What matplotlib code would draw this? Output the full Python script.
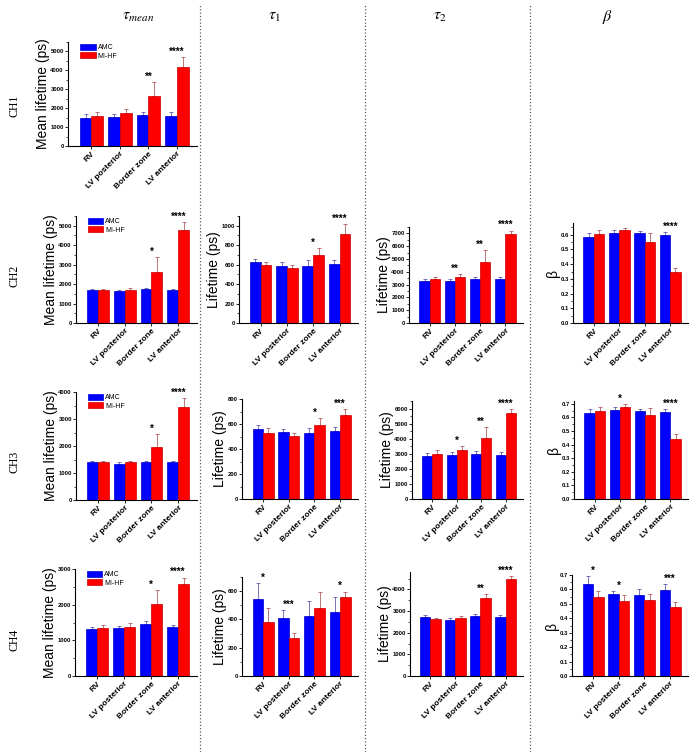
import numpy as np
import matplotlib.pyplot as plt
from matplotlib.lines import Line2D
from matplotlib.ticker import MultipleLocator, AutoMinorLocator

plt.rcParams['font.family'] = ['Liberation Sans', 'DejaVu Sans']
plt.rcParams['mathtext.fontset'] = 'stix'

regions = ["RV", "LV posterior", "Border zone", "LV anterior"]

# --- CH1 tau_mean
ch1_tmean_amc = [1500, 1550, 1640, 1590]
ch1_tmean_amc_err = [170, 150, 150, 200]
ch1_tmean_mi = [1590, 1720, 2660, 4200]
ch1_tmean_mi_err = [200, 230, 740, 490]
ch1_tmean_stars = ["", "", "**", "****"]

# --- CH2
ch2_tmean_amc = [1720, 1650, 1740, 1700]
ch2_tmean_amc_err = [40, 30, 40, 40]
ch2_tmean_mi = [1700, 1720, 2640, 4790]
ch2_tmean_mi_err = [50, 70, 740, 390]
ch2_tmean_stars = ["", "", "*", "****"]

ch2_t1_amc = [622, 591, 591, 608]
ch2_t1_amc_err = [31, 31, 55, 38]
ch2_t1_mi = [594, 570, 694, 914]
ch2_t1_mi_err = [31, 31, 79, 100]
ch2_t1_stars = ["", "", "*", "****"]

ch2_t2_amc = [3270, 3320, 3400, 3400]
ch2_t2_amc_err = [130, 130, 180, 200]
ch2_t2_mi = [3400, 3630, 4790, 6930]
ch2_t2_mi_err = [200, 200, 910, 290]
ch2_t2_stars = ["", "**", "**", "****"]

ch2_beta_amc = [0.586, 0.609, 0.609, 0.598]
ch2_beta_amc_err = [0.029, 0.021, 0.016, 0.022]
ch2_beta_mi = [0.605, 0.630, 0.554, 0.345]
ch2_beta_mi_err = [0.025, 0.015, 0.061, 0.030]
ch2_beta_stars = ["", "", "", "****"]

# --- CH3
ch3_tmean_amc = [1410, 1350, 1420, 1390]
ch3_tmean_amc_err = [40, 40, 40, 40]
ch3_tmean_mi = [1390, 1390, 1970, 3440]
ch3_tmean_mi_err = [70, 70, 480, 320]
ch3_tmean_stars = ["", "", "*", "****"]

ch3_t1_amc = [560, 533, 527, 545]
ch3_t1_amc_err = [35, 27, 38, 30]
ch3_t1_mi = [530, 508, 595, 670]
ch3_t1_mi_err = [35, 17, 55, 50]
ch3_t1_stars = ["", "", "*", "***"]

ch3_t2_amc = [2840, 2940, 2970, 2940]
ch3_t2_amc_err = [190, 150, 190, 180]
ch3_t2_mi = [2970, 3250, 4030, 5720]
ch3_t2_mi_err = [260, 250, 730, 260]
ch3_t2_stars = ["", "*", "**", "****"]

ch3_beta_amc = [0.630, 0.655, 0.645, 0.637]
ch3_beta_amc_err = [0.030, 0.020, 0.015, 0.023]
ch3_beta_mi = [0.645, 0.678, 0.620, 0.440]
ch3_beta_mi_err = [0.030, 0.017, 0.045, 0.035]
ch3_beta_stars = ["", "*", "", "****"]

# --- CH4
ch4_tmean_amc = [1320, 1340, 1470, 1360]
ch4_tmean_amc_err = [60, 60, 70, 70]
ch4_tmean_mi = [1340, 1370, 2010, 2590]
ch4_tmean_mi_err = [80, 130, 410, 170]
ch4_tmean_stars = ["", "", "*", "****"]

ch4_t1_amc = [546, 412, 421, 452]
ch4_t1_amc_err = [110, 56, 108, 105]
ch4_t1_mi = [382, 269, 480, 562]
ch4_t1_mi_err = [100, 38, 112, 35]
ch4_t1_stars = ["*", "***", "", "*"]

ch4_t2_amc = [2720, 2600, 2760, 2720]
ch4_t2_amc_err = [80, 80, 90, 80]
ch4_t2_mi = [2620, 2660, 3580, 4500]
ch4_t2_mi_err = [80, 90, 200, 100]
ch4_t2_stars = ["", "", "**", "****"]

ch4_beta_amc = [0.635, 0.570, 0.560, 0.595]
ch4_beta_amc_err = [0.055, 0.020, 0.045, 0.040]
ch4_beta_mi = [0.550, 0.520, 0.530, 0.480]
ch4_beta_mi_err = [0.040, 0.040, 0.040, 0.035]
ch4_beta_stars = ["*", "*", "", "***"]

W, H = 692, 752
fig = plt.figure(figsize=(W / 100, H / 100), dpi=100)


def box(l, t, r, b):
    return [l / W, 1 - b / H, (r - l) / W, (b - t) / H]


def panel(pos, amc, amc_err, mi, mi_err, stars, ymax, step, ylabel, legend=False):
    ax = fig.add_axes(box(*pos))
    x = np.arange(len(regions))
    w = 0.41
    ax.bar(x - w / 2, amc, w, color="#0000ff", edgecolor="#0000c8", lw=0.5, label="AMC", zorder=2)
    ax.bar(x + w / 2, mi, w, color="#ff0000", edgecolor="#c80000", lw=0.5, label="MI-HF", zorder=2)
    z = np.zeros(len(x))
    ax.errorbar(x - w / 2, amc, yerr=[z, amc_err], fmt="none", ecolor="#4040a0",
                elinewidth=0.5, capsize=1.5, capthick=0.5, zorder=1)
    ax.errorbar(x + w / 2, mi, yerr=[z, mi_err], fmt="none", ecolor="#a04040",
                elinewidth=0.5, capsize=1.5, capthick=0.5, zorder=1)
    tops = np.maximum(np.add(amc, amc_err), np.add(mi, mi_err))
    for i, s in enumerate(stars):
        if s:
            ax.text(i, tops[i] + ymax * 0.003, s, ha="center", va="bottom",
                    fontsize=7, fontweight="bold")
    ax.set_xlim(-0.82, 3.7)
    ax.set_ylim(0, ymax)
    ax.yaxis.set_major_locator(MultipleLocator(step))
    ax.yaxis.set_minor_locator(AutoMinorLocator(2))
    ax.set_xticks(x)
    ax.set_xticklabels(regions, rotation=45, ha="right", rotation_mode="anchor",
                       fontsize=6, fontweight="bold")
    ax.tick_params(axis="y", labelsize=4.2, length=2, width=0.6, pad=1)
    ax.tick_params(axis="y", which="minor", length=1.2, width=0.5)
    ax.tick_params(axis="x", length=2, width=0.6, pad=1)
    for lab in ax.get_yticklabels():
        lab.set_fontweight("bold")
    for sp in ["top", "right"]:
        ax.spines[sp].set_visible(False)
    for sp in ["left", "bottom"]:
        ax.spines[sp].set_linewidth(0.8)
    ax.set_ylabel(ylabel, fontsize=10, labelpad=0.5)
    if legend:
        ax.legend(loc="upper left", bbox_to_anchor=(0.08, 1.0), borderaxespad=0,
                  borderpad=0.3, fontsize=5, frameon=False, handlelength=2.2,
                  handleheight=0.9, labelspacing=0.15, handletextpad=0.3)
    return ax


ml, lt, bt = "Mean lifetime (ps)", "Lifetime (ps)", "β"

panel((68, 42, 197, 146), ch1_tmean_amc, ch1_tmean_amc_err, ch1_tmean_mi, ch1_tmean_mi_err,
      ch1_tmean_stars, 5500, 1000, ml, legend=True)

panel((76, 216, 197, 323), ch2_tmean_amc, ch2_tmean_amc_err, ch2_tmean_mi, ch2_tmean_mi_err,
      ch2_tmean_stars, 5500, 1000, ml, legend=True)
panel((239, 216, 358, 323), ch2_t1_amc, ch2_t1_amc_err, ch2_t1_mi, ch2_t1_mi_err,
      ch2_t1_stars, 1100, 200, lt)
panel((409, 227, 523, 323), ch2_t2_amc, ch2_t2_amc_err, ch2_t2_mi, ch2_t2_mi_err,
      ch2_t2_stars, 7500, 1000, lt)
panel((573, 223, 688, 323), ch2_beta_amc, ch2_beta_amc_err, ch2_beta_mi, ch2_beta_mi_err,
      ch2_beta_stars, 0.68, 0.1, bt)

panel((76, 392, 197, 500), ch3_tmean_amc, ch3_tmean_amc_err, ch3_tmean_mi, ch3_tmean_mi_err,
      ch3_tmean_stars, 4000, 1000, ml, legend=True)
panel((242, 399, 358, 499), ch3_t1_amc, ch3_t1_amc_err, ch3_t1_mi, ch3_t1_mi_err,
      ch3_t1_stars, 800, 200, lt)
panel((412, 401, 523, 499), ch3_t2_amc, ch3_t2_amc_err, ch3_t2_mi, ch3_t2_mi_err,
      ch3_t2_stars, 6500, 1000, lt)
panel((574, 401, 688, 499), ch3_beta_amc, ch3_beta_amc_err, ch3_beta_mi, ch3_beta_mi_err,
      ch3_beta_stars, 0.72, 0.1, bt)

panel((75, 569, 197, 676), ch4_tmean_amc, ch4_tmean_amc_err, ch4_tmean_mi, ch4_tmean_mi_err,
      ch4_tmean_stars, 3000, 1000, ml, legend=True)
panel((242, 577, 358, 676), ch4_t1_amc, ch4_t1_amc_err, ch4_t1_mi, ch4_t1_mi_err,
      ch4_t1_stars, 700, 200, lt)
panel((410, 572, 523, 676), ch4_t2_amc, ch4_t2_amc_err, ch4_t2_mi, ch4_t2_mi_err,
      ch4_t2_stars, 4800, 1000, lt)
panel((572, 575, 688, 676), ch4_beta_amc, ch4_beta_amc_err, ch4_beta_mi, ch4_beta_mi_err,
      ch4_beta_stars, 0.70, 0.1, bt)

# column titles
for x, s in [(138, r"$\tau_{mean}$"), (274, r"$\tau_{\mathit{1}}$"),
             (440, r"$\tau_{\mathit{2}}$"), (607, r"$\beta$")]:
    fig.text(x / W, 1 - 17 / H, s, fontsize=11.5, ha="center", va="center")

# row labels
for y, s in [(106, "CH1"), (276, "CH2"), (462, "CH3"), (640, "CH4")]:
    fig.text(15 / W, 1 - y / H, s, rotation=90, ha="center", va="center",
             fontsize=8.5, family="Liberation Serif")

# dotted separators
for x in [200, 365, 530]:
    fig.add_artist(Line2D([x / W, x / W], [0, 1 - 5 / H], transform=fig.transFigure,
                          ls=":", color="0.35", lw=0.9))

fig.savefig("out.png", dpi=100)
